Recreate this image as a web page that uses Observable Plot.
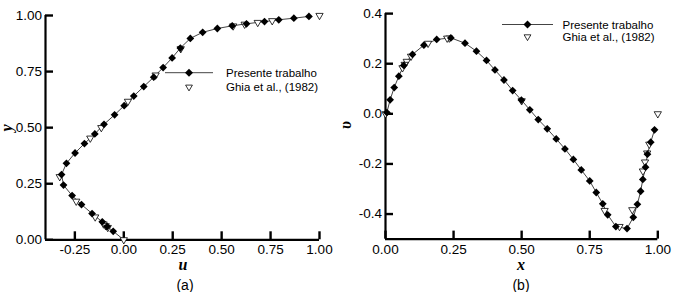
<!DOCTYPE html>
<html><head><meta charset="utf-8">
<script src="https://cdn.jsdelivr.net/npm/d3@7"></script>
<script src="https://cdn.jsdelivr.net/npm/@observablehq/plot@0.6"></script>
<style>
body{margin:0;background:#fff;}
#wrap{position:relative;width:673px;height:292px;overflow:hidden;font-family:"Liberation Sans",Arial,Helvetica,sans-serif;color:#000;}
.panel{position:absolute;top:0;}
.lbl{position:absolute;transform:translate(-50%,-50%);white-space:nowrap;line-height:1;}
.ax{font-family:"Liberation Serif","Times New Roman",serif;font-style:italic;font-weight:bold;font-size:16px;}
.cap{font-size:14px;}
#legend{position:absolute;left:0;top:0;pointer-events:none;}
</style></head>
<body>
<div id="wrap">
  <div class="panel" id="pa" style="left:0px"></div>
  <div class="panel" id="pb" style="left:340px"></div>
  <div class="lbl ax" style="left:183px;top:265px">u</div>
  <div class="lbl ax" style="left:7px;top:128px;transform:translate(-50%,-50%) rotate(-90deg)">y</div>
  <div class="lbl cap" style="left:185px;top:285px">(a)</div>
  <div class="lbl ax" style="left:521px;top:265px">x</div>
  <div class="lbl ax" style="left:346px;top:125px;transform:translate(-50%,-50%) rotate(-90deg)">υ</div>
  <div class="lbl cap" style="left:521px;top:285px">(b)</div>
  <svg id="legend" width="673" height="292"></svg>
</div>
<script>
// ---- Panel (a): u-velocity along vertical centerline ----
const simA_u = [0.000, -0.054, -0.085, -0.110, -0.162, -0.216, -0.264, -0.308, -0.318, -0.293, -0.249, -0.201, -0.148, -0.101, -0.047, 0.002, 0.051, 0.102, 0.153, 0.201, 0.247, 0.289, 0.340, 0.403, 0.478, 0.554, 0.627, 0.719, 0.792, 0.869, 0.946];
const simA_y = [0.000, 0.038, 0.059, 0.080, 0.117, 0.157, 0.197, 0.244, 0.291, 0.341, 0.387, 0.429, 0.472, 0.515, 0.557, 0.598, 0.641, 0.683, 0.725, 0.768, 0.811, 0.855, 0.898, 0.925, 0.942, 0.954, 0.963, 0.973, 0.981, 0.988, 0.996];
const ghiaA_y = [1.0000, 0.9766, 0.9688, 0.9609, 0.9531, 0.8516, 0.7344, 0.6172, 0.5000, 0.4531, 0.2813, 0.1719, 0.1016, 0.0703, 0.0625, 0.0547, 0.0000];
const ghiaA_u = [1.00000, 0.75837, 0.68439, 0.61756, 0.55892, 0.29093, 0.16256, 0.02135, -0.11477, -0.17119, -0.32726, -0.24299, -0.14612, -0.10338, -0.09266, -0.08186, 0.00000];
const ticksA_x = [-0.25, 0.00, 0.25, 0.50, 0.75, 1.00];
const ticksA_y = [0.00, 0.25, 0.50, 0.75, 1.00];

// ---- Panel (b): v-velocity along horizontal centerline ----
const simB_x = [0.005, 0.017, 0.032, 0.049, 0.067, 0.099, 0.141, 0.188, 0.240, 0.292, 0.334, 0.371, 0.402, 0.435, 0.467, 0.499, 0.530, 0.561, 0.594, 0.627, 0.659, 0.690, 0.719, 0.750, 0.774, 0.798, 0.816, 0.846, 0.887, 0.910, 0.925, 0.937, 0.945, 0.955, 0.962, 0.974, 0.988];
const simB_v = [0.005, 0.056, 0.105, 0.150, 0.193, 0.237, 0.274, 0.297, 0.303, 0.282, 0.250, 0.213, 0.175, 0.135, 0.093, 0.055, 0.016, -0.023, -0.060, -0.100, -0.140, -0.182, -0.224, -0.268, -0.314, -0.359, -0.403, -0.450, -0.458, -0.413, -0.361, -0.309, -0.262, -0.213, -0.161, -0.113, -0.064];
const ghiaB_x = [1.0000, 0.9688, 0.9609, 0.9531, 0.9453, 0.9063, 0.8594, 0.8047, 0.5000, 0.2344, 0.2266, 0.1563, 0.0938, 0.0781, 0.0703, 0.0625, 0.0000];
const ghiaB_v = [0.00000, -0.12146, -0.15663, -0.19254, -0.22847, -0.383, -0.44993, -0.38598, 0.05186, 0.30203, 0.30174, 0.28124, 0.22965, 0.20920, 0.19713, 0.18360, 0.00000];
const ticksB_x = [0.00, 0.25, 0.50, 0.75, 1.00];
const ticksB_y = [-0.4, -0.2, 0.0, 0.2, 0.4];

const legendLabels = ["Presente trabalho", "Ghia et al., (1982)"];

const simA = simA_u.map((u, i) => ({a: u, b: simA_y[i]}));
const ghiaA = ghiaA_u.map((u, i) => ({a: u, b: ghiaA_y[i]}));
const simB = simB_x.map((x, i) => ({a: x, b: simB_v[i]}));
const ghiaB = ghiaB_x.map((x, i) => ({a: x, b: ghiaB_v[i]}));

const style = {fontFamily: '"Liberation Sans", Arial, Helvetica, sans-serif', fontSize: "13.5px", color: "#000", background: "transparent", overflow: "visible"};

function panel({width, mL, mR, mT, mB, xDomain, yDomain, xTicks, yTicks, xFmt, yFmt, sim, ghia, simDots}) {
  const H = 292;
  const fw = width - mL - mR, fh = H - mT - mB, tl = 8;
  // inward tick length (~8px) expressed in data units of each scale
  const dx = (xDomain[1] - xDomain[0]) * tl / fw;
  const dy = (yDomain[1] - yDomain[0]) * tl / fh;
  return Plot.plot({
    width, height: H, marginLeft: mL, marginRight: mR, marginTop: mT, marginBottom: mB,
    style,
    x: {domain: xDomain},
    y: {domain: yDomain},
    marks: [
      Plot.axisX({ticks: xTicks, tickSize: 0, tickPadding: 5, tickFormat: xFmt, label: null}),
      Plot.axisY({ticks: yTicks, tickSize: 0, tickPadding: 3.5, tickFormat: yFmt, label: null}),
      Plot.ruleX([xDomain[0]], {stroke: "#000", strokeWidth: 2.2}),
      Plot.ruleY([yDomain[0]], {stroke: "#000", strokeWidth: 2.2}),
      Plot.ruleX(xTicks, {x: d => d, y1: yDomain[0], y2: yDomain[0] + dy, stroke: "#000", strokeWidth: 2.4}),
      Plot.ruleY(yTicks, {y: d => d, x1: xDomain[0], x2: xDomain[0] + dx, stroke: "#000", strokeWidth: 2.4}),
      Plot.line(sim, {x: "a", y: "b", stroke: "#444", strokeWidth: 1}),
      Plot.dot(ghia, {x: "a", y: "b", symbol: "triangle", r: 2.7, rotate: 180, fill: "#fff", stroke: "#000", strokeWidth: 0.8}),
      Plot.dot(simDots, {x: "a", y: "b", symbol: "diamond2", r: 3.5, fill: "#000", stroke: "none"})
    ]
  });
}

document.getElementById("pa").appendChild(panel({
  width: 336, mL: 45, mR: 17, mT: 15, mB: 52.7,
  xDomain: [-0.4, 1.0], yDomain: [0, 1],
  xTicks: ticksA_x, yTicks: ticksA_y,
  xFmt: d => d.toFixed(2), yFmt: d => d.toFixed(2),
  sim: simA, ghia: ghiaA, simDots: simA.slice(1)
}));
document.getElementById("pb").appendChild(panel({
  width: 333, mL: 45, mR: 15.7, mT: 13.1, mB: 53.4,
  xDomain: [0, 1], yDomain: [-0.5, 0.4],
  xTicks: ticksB_x, yTicks: ticksB_y,
  xFmt: d => d.toFixed(2), yFmt: d => d.toFixed(1),
  sim: simB, ghia: ghiaB, simDots: simB
}));

// legends
const svg = d3.select("#legend");
function legend(x0, x1, yLine, yTri, xText) {
  const xm = (x0 + x1) / 2;
  svg.append("line").attr("x1", x0).attr("x2", x1).attr("y1", yLine).attr("y2", yLine).attr("stroke", "#444").attr("stroke-width", 1);
  svg.append("path").attr("transform", `translate(${xm},${yLine})`).attr("d", "M0,-4L4,0L0,4L-4,0Z").attr("fill", "#000");
  svg.append("path").attr("transform", `translate(${xm},${yTri})`).attr("d", "M-3.4,-2.2L3.4,-2.2L0,3.6Z").attr("fill", "#fff").attr("stroke", "#000").attr("stroke-width", 0.8);
  [yLine, yTri].forEach((yy, i) => svg.append("text").attr("x", xText).attr("y", yy).attr("dy", "0.35em")
    .attr("font-size", "11.5px").attr("font-family", '"Liberation Sans", Arial, sans-serif').text(legendLabels[i]));
}
legend(165, 213, 72.7, 87.3, 226);
legend(502, 553, 24.5, 37, 562.5);
</script>
</body></html>
